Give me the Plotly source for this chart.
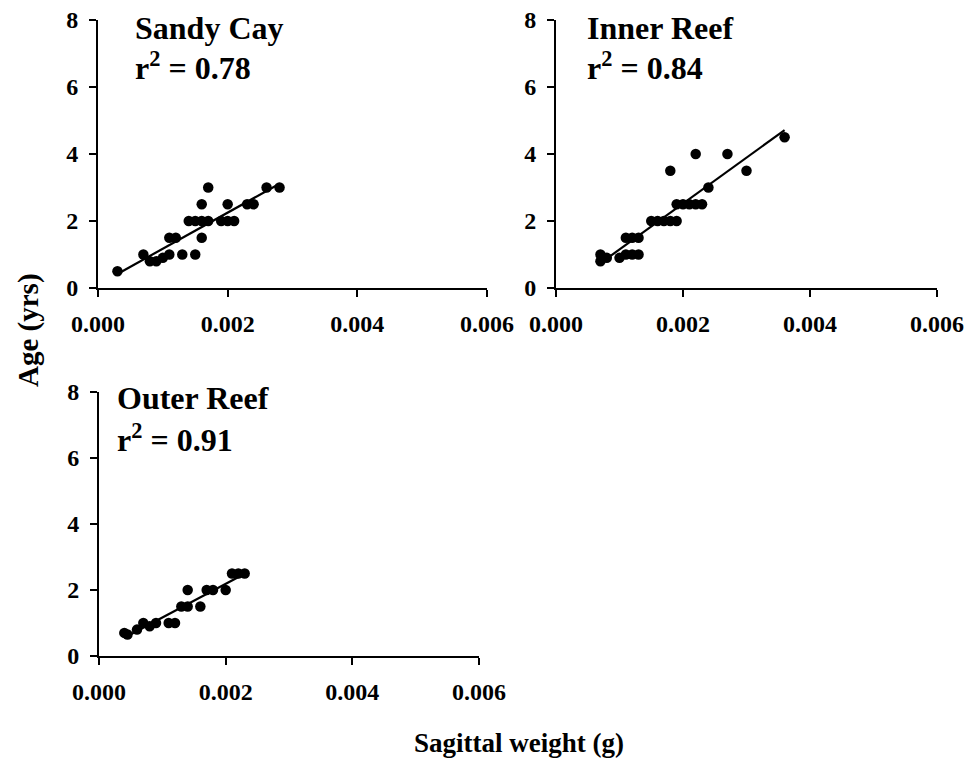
import numpy as np
import plotly.graph_objects as go

# ---- data ----
sandy_x = [0.0003, 0.0007, 0.0008, 0.0009, 0.0010, 0.0011, 0.0011, 0.0012, 0.0013, 0.0015,
           0.0014, 0.0015, 0.0016, 0.0017, 0.0016, 0.0016, 0.0017, 0.0019, 0.0020, 0.0021,
           0.0020, 0.0023, 0.0024, 0.0026, 0.0028]
sandy_y = [0.5, 1.0, 0.8, 0.8, 0.9, 1.0, 1.5, 1.5, 1.0, 1.0,
           2.0, 2.0, 2.0, 2.0, 1.5, 2.5, 3.0, 2.0, 2.0, 2.0,
           2.5, 2.5, 2.5, 3.0, 3.0]

inner_x = [0.0007, 0.0007, 0.0008, 0.0010, 0.0011, 0.0012, 0.0013, 0.0011, 0.0012, 0.0013,
           0.0015, 0.0016, 0.0017, 0.0018, 0.0019, 0.0018, 0.0019, 0.0020, 0.0021, 0.0022,
           0.0023, 0.0022, 0.0024, 0.0027, 0.0030, 0.0036]
inner_y = [1.0, 0.8, 0.9, 0.9, 1.0, 1.0, 1.0, 1.5, 1.5, 1.5,
           2.0, 2.0, 2.0, 2.0, 2.0, 3.5, 2.5, 2.5, 2.5, 2.5,
           2.5, 4.0, 3.0, 4.0, 3.5, 4.5]

outer_x = [0.0004, 0.00045, 0.0006, 0.0007, 0.0008, 0.0009, 0.0011, 0.0012, 0.0013, 0.0014,
           0.0014, 0.0016, 0.0017, 0.0018, 0.0020, 0.0021, 0.0022, 0.0023]
outer_y = [0.7, 0.65, 0.8, 1.0, 0.9, 1.0, 1.0, 1.0, 1.5, 1.5,
           2.0, 1.5, 2.0, 2.0, 2.0, 2.5, 2.5, 2.5]

site_names = ["Sandy Cay", "Inner Reef", "Outer Reef"]
r2_values = ["0.78", "0.84", "0.91"]
x_ticks = [0.000, 0.002, 0.004, 0.006]
x_tick_labels = ["0.000", "0.002", "0.004", "0.006"]
y_ticks = [0, 2, 4, 6, 8]
x_title = "Sagittal weight (g)"
y_title = "Age (yrs)"

FONT = "Liberation Serif"
W, H = 970, 769

fig = go.Figure()

panels = [(sandy_x, sandy_y, "x", "y"),
          (inner_x, inner_y, "x2", "y2"),
          (outer_x, outer_y, "x3", "y3")]

for xs, ys, xa, ya in panels:
    xs_a = np.array(xs); ys_a = np.array(ys)
    m, b = np.polyfit(xs_a, ys_a, 1)
    lx = np.array([xs_a.min(), xs_a.max()])
    fig.add_trace(go.Scatter(x=lx, y=m * lx + b, mode="lines",
                             line=dict(color="black", width=2.2),
                             xaxis=xa, yaxis=ya, showlegend=False, hoverinfo="skip"))
    fig.add_trace(go.Scatter(x=xs, y=ys, mode="markers",
                             marker=dict(color="black", size=10.5),
                             xaxis=xa, yaxis=ya, showlegend=False))

def px_x(p):
    return p / W

def px_y(p):
    return 1 - p / H

axis_common = dict(showgrid=False, zeroline=False, showline=True, linecolor="black",
                   linewidth=2, ticks="outside", ticklen=7, tickwidth=2, tickcolor="black",
                   tickfont=dict(family=FONT, size=24, color="black", weight="bold"),
                   ticklabelstandoff=6, automargin=False)

xdom = [(98, 487), (556, 937), (99, 479)]
ydom = [(288, 20), (288, 20), (656, 392)]

for i in range(3):
    sx = "" if i == 0 else str(i + 1)
    fig.update_layout(**{
        "xaxis" + sx: dict(axis_common, domain=[px_x(xdom[i][0]), px_x(xdom[i][1])],
                           range=[0, 0.006], tickvals=x_ticks, ticktext=x_tick_labels,
                           anchor="y" + sx),
        "yaxis" + sx: dict(axis_common, domain=[px_y(ydom[i][0]), px_y(ydom[i][1])],
                           range=[0, 8], tickvals=y_ticks, anchor="x" + sx),
    })

title_pos = [(133, 8, 44), (585, 8, 44), (115, 378, 416)]
annots = []
for i in range(3):
    xl, yt1, yt2 = title_pos[i]
    annots.append(dict(x=px_x(xl), y=px_y(yt1), xref="paper", yref="paper",
                       xanchor="left", yanchor="top", showarrow=False,
                       text="<b>" + site_names[i] + "</b>",
                       font=dict(family=FONT, size=32, color="black")))
    annots.append(dict(x=px_x(xl), y=px_y(yt2), xref="paper", yref="paper",
                       xanchor="left", yanchor="top", showarrow=False,
                       text="<b>r<sup>2</sup> = " + r2_values[i] + "</b>",
                       font=dict(family=FONT, size=32, color="black")))

annots.append(dict(x=px_x(28), y=px_y(330), xref="paper", yref="paper",
                   xanchor="center", yanchor="middle", showarrow=False, textangle=-90,
                   text="<b>" + y_title + "</b>", font=dict(family=FONT, size=29, color="black")))
annots.append(dict(x=px_x(412), y=px_y(743), xref="paper", yref="paper",
                   xanchor="left", yanchor="middle", showarrow=False,
                   text="<b>" + x_title + "</b>", font=dict(family=FONT, size=27, color="black")))

fig.update_layout(width=W, height=H, margin=dict(l=0, r=0, t=0, b=0, autoexpand=False),
                  plot_bgcolor="white", paper_bgcolor="white",
                  annotations=annots, showlegend=False)

fig.write_html("out.html", config={"displayModeBar": False},
               post_script="document.body.style.margin='0px';document.body.style.padding='0px';")
